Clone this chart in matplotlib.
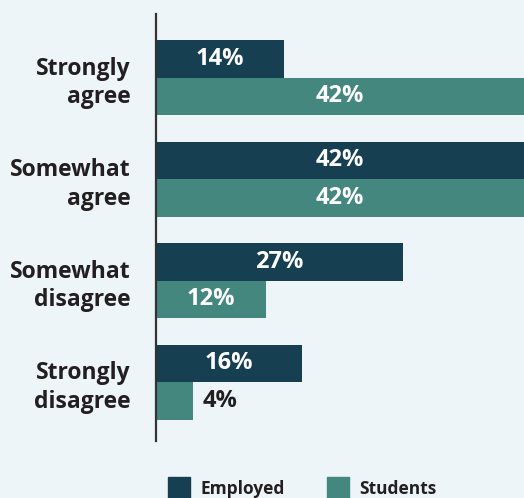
import numpy as np
import matplotlib.pyplot as plt
from matplotlib.patches import Patch

# survey responses, % of each group
categories = ['Strongly\nagree', 'Somewhat\nagree', 'Somewhat\ndisagree', 'Strongly\ndisagree']
employed = [14, 42, 27, 16]
students = [42, 42, 12, 4]
groups = ['Employed', 'Students']

dark = '#163f52'
teal = '#44877e'
bg = '#edf5f9'
txt = '#231f20'
xmax = 40.3

plt.rcParams['font.family'] = ['Open Sans', 'DejaVu Sans']

fig = plt.figure(figsize=(5.24, 4.98), dpi=100, facecolor=bg)
ax = fig.add_axes([156/524, 57/498, 368/524, 427/498])
ax.set_facecolor(bg)

y = np.arange(len(categories))
h = 0.37
ax.barh(y - h/2, employed, height=h, color=dark, zorder=2)
ax.barh(y + h/2, students, height=h, color=teal, zorder=2)

# value labels: white inside bar, dark outside if the bar is too short
def label(vals, offs):
    for i, v in enumerate(vals):
        if v >= 8:
            ax.text(min(v, xmax) / 2, i + offs, f'{v}%', ha='center', va='center',
                    color='white', fontsize=17, fontweight='bold')
        else:
            ax.text(v + 1.1, i + offs, f'{v}%', ha='left', va='center',
                    color=txt, fontsize=17, fontweight='bold')

label(employed, -h/2)
label(students, h/2)

ax.set_xlim(0, xmax)
ax.set_ylim(3.58, -0.626)
ax.set_xticks([])
ax.set_yticks(y)
ax.set_yticklabels(categories, fontsize=16.5, fontweight='bold', color=txt,
                   linespacing=1.25)
ax.tick_params(axis='y', length=0, pad=18)
for s in ['top', 'right', 'bottom']:
    ax.spines[s].set_visible(False)
ax.spines['left'].set_color('#333333')
ax.spines['left'].set_linewidth(1.6)
ax.spines['left'].set_zorder(3)

handles = [Patch(color=dark), Patch(color=teal)]
fig.legend(handles, groups, loc='upper left', bbox_to_anchor=(168/524, 21/498),
           ncol=2, frameon=False, prop={'weight': 'bold', 'size': 12.5},
           handlelength=1.27, handleheight=1.7, handletextpad=0.6,
           columnspacing=2.4, borderpad=0, borderaxespad=0, labelcolor=txt)

fig.savefig('out.png', dpi=100, facecolor=bg)
